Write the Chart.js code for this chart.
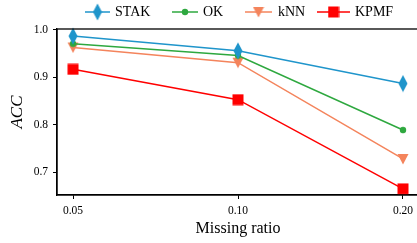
<!DOCTYPE html>
<html>
<head>
<meta charset="utf-8">
<script src="https://cdn.jsdelivr.net/npm/chart.js@4/dist/chart.umd.min.js"></script>
<style>
html,body{margin:0;padding:0;background:#fff;overflow:hidden;width:417px;height:243px;}
#wrap{position:absolute;left:0;top:0;width:420px;height:243px;overflow:hidden;}
canvas{display:block;}
</style>
</head>
<body>
<div id="wrap"><canvas id="c" width="420" height="243" style="width:420px;height:243px"></canvas></div>
<script>
const categories = ['0.05', '0.10', '0.20'];
const yTicks = [0.7, 0.8, 0.9, 1.0];
const seriesNames = ['STAK', 'OK', 'kNN', 'KPMF'];
const stak = [0.987, 0.956, 0.887];
const ok   = [0.971, 0.946, 0.789];
const knn  = [0.963, 0.931, 0.728];
const kpmf = [0.917, 0.853, 0.665];

const colors = ['#1f95cb', '#2ea83f', '#f4845c', '#ff0000'];
const FONT = "'Liberation Serif', 'DejaVu Serif', serif";

function mk(w, h, draw) {
  const c = document.createElement('canvas');
  c.width = w; c.height = h;
  const g = c.getContext('2d');
  draw(g);
  return c;
}
const markers = [
  mk(10, 18, g => { g.fillStyle = colors[0]; g.beginPath(); g.moveTo(5,0.5); g.lineTo(9.5,9); g.lineTo(5,17.5); g.lineTo(0.5,9); g.closePath(); g.fill(); }),
  mk(8, 8, g => { g.fillStyle = colors[1]; g.beginPath(); g.arc(4,4,3.2,0,Math.PI*2); g.fill(); }),
  mk(12, 12, g => { g.fillStyle = colors[2]; g.beginPath(); g.moveTo(0.5,1); g.lineTo(11.5,1); g.lineTo(6,11.5); g.closePath(); g.fill(); }),
  mk(12, 12, g => { g.fillStyle = colors[3]; g.fillRect(0.5,0.5,11,11); })
];

const allSeries = [stak, ok, knn, kpmf];
const datasets = allSeries.map((s, i) => ({
  label: seriesNames[i],
  data: s.map((v, j) => ({x: j, y: v})),
  borderColor: colors[i],
  backgroundColor: colors[i],
  borderWidth: 1.5,
  pointStyle: markers[i],
  pointRadius: 6,
  clip: false,
  tension: 0
}));

const legendPos = [
  {x1: 85, x2: 110, tx: 115},
  {x1: 172, x2: 198, tx: 203},
  {x1: 245, x2: 272, tx: 278},
  {x1: 317, x2: 350, tx: 355}
];

const framePlugin = {
  id: 'frame',
  afterDraw(chart) {
    const {ctx, chartArea: a} = chart;
    ctx.save();
    ctx.strokeStyle = '#000';
    ctx.lineWidth = 1.3;
    ctx.strokeRect(a.left, a.top, a.right - a.left, a.bottom - a.top);
    ctx.font = "14px " + FONT;
    ctx.textBaseline = 'middle';
    seriesNames.forEach((n, i) => {
      const p = legendPos[i];
      const y = 12;
      ctx.strokeStyle = colors[i];
      ctx.lineWidth = 1.5;
      ctx.beginPath(); ctx.moveTo(p.x1, y); ctx.lineTo(p.x2, y); ctx.stroke();
      const m = markers[i];
      ctx.drawImage(m, (p.x1 + p.x2) / 2 - m.width / 2, y - m.height / 2);
      ctx.fillStyle = '#000';
      ctx.fillText(n, p.tx, y + 0.5);
    });
    ctx.restore();
  }
};

new Chart(document.getElementById('c'), {
  type: 'line',
  data: {datasets},
  options: {
    responsive: false,
    maintainAspectRatio: false,
    devicePixelRatio: 1,
    animation: false,
    layout: {autoPadding: false, padding: {left: 0, right: 1, top: 29, bottom: 0}},
    plugins: {legend: {display: false}, tooltip: {enabled: false}},
    scales: {
      x: {
        type: 'linear',
        min: -0.097, max: 2.097,
        afterBuildTicks: s => { s.ticks = categories.map((c, i) => ({value: i})); },
        afterFit: s => { s.height = 48; s.paddingLeft = 0; s.paddingRight = 0; },
        ticks: {
          callback: v => categories[v],
          color: '#000',
          font: {family: FONT, size: 11.5},
          padding: 5,
          maxRotation: 0
        },
        grid: {drawOnChartArea: false, drawTicks: true, tickLength: 4, color: '#000', tickWidth: 1},
        border: {display: true, color: '#000', width: 1.3},
        title: {display: true, text: 'Missing ratio', color: '#000', font: {family: FONT, size: 16}, padding: {top: 0, bottom: 5}}
      },
      y: {
        min: 0.652, max: 1.002,
        afterBuildTicks: s => { s.ticks = yTicks.map(v => ({value: v})); },
        afterFit: s => { s.width = 57; s.paddingTop = 0; s.paddingBottom = 0; },
        ticks: {
          callback: v => v.toFixed(1),
          color: '#000',
          font: {family: FONT, size: 11.5},
          padding: 5
        },
        grid: {drawOnChartArea: false, drawTicks: true, tickLength: 4, color: '#000', tickWidth: 1},
        border: {display: true, color: '#000', width: 1.3},
        title: {display: true, text: 'ACC', color: '#000', font: {family: FONT, size: 17, style: 'italic'}, padding: {top: 7, bottom: 0}}
      }
    }
  },
  plugins: [framePlugin]
});
</script>
</body>
</html>
